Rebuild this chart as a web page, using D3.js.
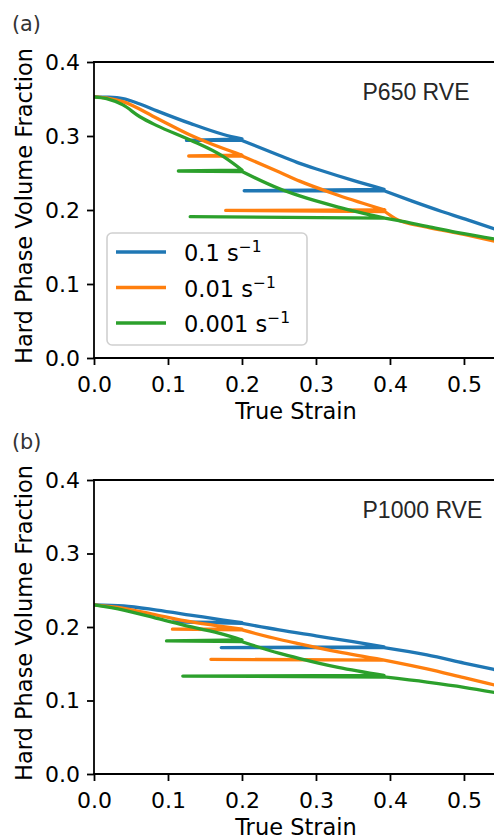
<!DOCTYPE html>
<html>
<head>
<meta charset="utf-8">
<script src="https://cdn.jsdelivr.net/npm/d3@7"></script>
<style>
  html, body { margin: 0; padding: 0; background: #fff; }
  svg { display: block; }
</style>
</head>
<body>
<div id="chart"></div>
<script>
// ---------------- DATA ----------------
const rateLabels = ["0.1", "0.01", "0.001"];
const xTicks = [0.0, 0.1, 0.2, 0.3, 0.4, 0.5];
const yTicks = [0.0, 0.1, 0.2, 0.3, 0.4];
const panelTags = ["(a)", "(b)"];
const panelTitles = ["P650 RVE", "P1000 RVE"];

// Panel (a) P650
const strainA_01 = [0, 0.02, 0.039, 0.06, 0.085, 0.13, 0.175, 0.2, 0.125, 0.2, 0.25, 0.278, 0.305, 0.35, 0.392, 0.203, 0.392, 0.43, 0.47, 0.51, 0.546];
const fracA_01   = [0.353, 0.3525, 0.3505, 0.344, 0.334, 0.317, 0.302, 0.296, 0.294, 0.294, 0.274, 0.263, 0.254, 0.240, 0.228, 0.226, 0.226, 0.212, 0.198, 0.185, 0.173];
const strainA_001 = [0, 0.02, 0.039, 0.085, 0.13, 0.175, 0.2, 0.128, 0.2, 0.251, 0.278, 0.33, 0.393, 0.178, 0.393, 0.41, 0.45, 0.5, 0.546];
const fracA_001   = [0.353, 0.351, 0.3464, 0.324, 0.3014, 0.283, 0.274, 0.273, 0.273, 0.251, 0.239, 0.220, 0.200, 0.1995, 0.198, 0.187, 0.177, 0.167, 0.157];
const strainA_0001 = [0, 0.017, 0.039, 0.062, 0.085, 0.13, 0.175, 0.2, 0.114, 0.2, 0.25, 0.278, 0.33, 0.393, 0.13, 0.393, 0.41, 0.45, 0.5, 0.546];
const fracA_0001   = [0.353, 0.3505, 0.342, 0.326, 0.314, 0.2946, 0.272, 0.254, 0.2527, 0.252, 0.229, 0.219, 0.204, 0.189, 0.191, 0.189, 0.186, 0.178, 0.168, 0.160];

// Panel (b) P1000
const strainB_01 = [0, 0.04, 0.085, 0.13, 0.175, 0.2, 0.107, 0.2, 0.25, 0.3, 0.35, 0.392, 0.172, 0.392, 0.45, 0.5, 0.546];
const fracB_01   = [0.23, 0.2286, 0.223, 0.2163, 0.2095, 0.206, 0.207, 0.205, 0.196, 0.188, 0.180, 0.173, 0.172, 0.172, 0.162, 0.151, 0.141];
const strainB_001 = [0, 0.04, 0.085, 0.13, 0.175, 0.2, 0.106, 0.2, 0.251, 0.278, 0.33, 0.392, 0.158, 0.392, 0.45, 0.5, 0.546];
const fracB_001   = [0.23, 0.2254, 0.2163, 0.2072, 0.2004, 0.197, 0.197, 0.196, 0.183, 0.177, 0.166, 0.155, 0.156, 0.155, 0.143, 0.131, 0.120];
const strainB_0001 = [0, 0.04, 0.085, 0.13, 0.175, 0.2, 0.098, 0.2, 0.251, 0.278, 0.33, 0.392, 0.12, 0.392, 0.45, 0.5, 0.546];
const fracB_0001   = [0.23, 0.223, 0.2118, 0.2004, 0.19, 0.1823, 0.181, 0.180, 0.164, 0.157, 0.145, 0.134, 0.1333, 0.132, 0.125, 0.118, 0.110];

// ---------------- STYLE / LAYOUT ----------------
const colors = ["#1f77b4", "#ff7f0e", "#2ca02c"];
const W = 494, H = 839;
const xLeft = 94, xRight = 498;
const panels = [
  { top: 62, bottom: 358, series: [[strainA_01, fracA_01], [strainA_001, fracA_001], [strainA_0001, fracA_0001]], legend: true },
  { top: 480, bottom: 774, series: [[strainB_01, fracB_01], [strainB_001, fracB_001], [strainB_0001, fracB_0001]], legend: false }
];
const tickFont = "'DejaVu Sans', sans-serif";

const svg = d3.select("#chart").append("svg")
  .attr("width", W).attr("height", H)
  .attr("viewBox", `0 0 ${W} ${H}`);

const x = d3.scaleLinear().domain([0, 0.546]).range([xLeft, xRight]);

// split into runs: loading curves (smoothed), unloading and reloading legs (straight)
function splitRuns(pts) {
  const breaks = new Set();
  for (let i = 1; i < pts.length - 1; i++) {
    const d0 = Math.sign(pts[i][0] - pts[i - 1][0]);
    const d1 = Math.sign(pts[i + 1][0] - pts[i][0]);
    if (d0 !== d1) {
      breaks.add(i);
      if (d1 > 0) breaks.add(i + 1);
    }
  }
  const runs = [];
  let cur = [pts[0]];
  for (let i = 1; i < pts.length; i++) {
    cur.push(pts[i]);
    if (breaks.has(i) && i < pts.length - 1) {
      runs.push(cur);
      cur = [pts[i]];
    }
  }
  runs.push(cur);
  return runs;
}

panels.forEach((p, pi) => {
  const y = d3.scaleLinear().domain([0, 0.4]).range([p.bottom, p.top]);
  const g = svg.append("g");

  const clipId = "clip" + pi;
  svg.append("clipPath").attr("id", clipId)
    .append("rect").attr("x", xLeft).attr("y", p.top - 3)
    .attr("width", xRight - xLeft).attr("height", p.bottom - p.top + 6);

  const line = d3.line().x(d => x(d[0])).y(d => y(d[1])).curve(d3.curveMonotoneX);
  p.series.forEach((s, si) => {
    const pts = s[0].map((v, i) => [v, s[1][i]]);
    const runs = splitRuns(pts);
    const dStr = runs.map(r => {
      const rr = r[0][0] > r[r.length - 1][0] ? r.slice().reverse() : r;
      return line(rr);
    }).join("");
    g.append("path")
      .attr("clip-path", `url(#${clipId})`)
      .attr("d", dStr)
      .attr("fill", "none")
      .attr("stroke", colors[si])
      .attr("stroke-width", 3.3)
      .attr("stroke-linejoin", "round")
      .attr("stroke-linecap", "round");
  });

  // axes
  const xAxis = d3.axisBottom(x).tickValues(xTicks).tickFormat(d3.format(".1f"))
    .tickSize(7).tickPadding(11);
  const yAxis = d3.axisLeft(y).tickValues(yTicks).tickFormat(d3.format(".1f"))
    .tickSize(7).tickPadding(7);

  const gx = g.append("g").attr("transform", `translate(0,${p.bottom})`).call(xAxis);
  const gy = g.append("g").attr("transform", `translate(${xLeft},0)`).call(yAxis);
  [gx, gy].forEach(a => {
    a.select(".domain").remove();
    a.selectAll(".tick line").attr("stroke", "#000").attr("stroke-width", 1.8);
    a.selectAll(".tick text").attr("fill", "#000")
      .style("font-family", tickFont).style("font-size", "22px");
  });

  // spines
  g.append("line").attr("x1", xLeft).attr("x2", xLeft).attr("y1", p.top).attr("y2", p.bottom)
    .attr("stroke", "#000").attr("stroke-width", 1.8).attr("stroke-linecap", "square");
  g.append("line").attr("x1", xLeft).attr("x2", xRight).attr("y1", p.bottom).attr("y2", p.bottom)
    .attr("stroke", "#000").attr("stroke-width", 1.8).attr("stroke-linecap", "square");
  g.append("line").attr("x1", xLeft).attr("x2", xRight).attr("y1", p.top).attr("y2", p.top)
    .attr("stroke", "#000").attr("stroke-width", 1.8).attr("stroke-linecap", "square");
  g.append("line").attr("x1", xRight).attr("x2", xRight).attr("y1", p.top).attr("y2", p.bottom)
    .attr("stroke", "#000").attr("stroke-width", 1.8);

  // axis labels
  g.append("text").attr("x", (xLeft + xRight) / 2).attr("y", p.bottom + 61)
    .attr("text-anchor", "middle").style("font-family", tickFont).style("font-size", "22.5px")
    .attr("fill", "#000").text("True Strain");
  const yc = (p.top + p.bottom) / 2 - 4;
  g.append("text").attr("transform", `translate(31.5,${yc}) rotate(-90)`)
    .attr("text-anchor", "middle").style("font-family", tickFont).style("font-size", "22.5px")
    .attr("fill", "#000").text("Hard Phase Volume Fraction");

  // panel tag
  g.append("text").attr("x", 12).attr("y", p.top - 31)
    .style("font-family", tickFont).style("font-size", "20.8px")
    .attr("fill", "#333").text(panelTags[pi]);

  // in-plot title
  g.append("text").attr("x", 362.5).attr("y", p.top + 38)
    .style("font-family", "'Liberation Sans', Arial, sans-serif").style("font-size", "23px")
    .attr("fill", "#262626").text(panelTitles[pi]);

  if (p.legend) {
    const lg = g.append("g");
    lg.append("rect").attr("x", 107).attr("y", 233).attr("width", 200).attr("height", 112)
      .attr("rx", 5).attr("ry", 5)
      .attr("fill", "#fff").attr("fill-opacity", 0.8)
      .attr("stroke", "#d0d0d0").attr("stroke-width", 1.6);
    rateLabels.forEach((lab, i) => {
      const ly = 252 + i * 35.5;
      lg.append("line").attr("x1", 116).attr("x2", 166).attr("y1", ly).attr("y2", ly)
        .attr("stroke", colors[i]).attr("stroke-width", 3.6);
      const t = lg.append("text").attr("x", 184).attr("y", ly + 9)
        .style("font-family", tickFont).style("font-size", "22.5px").attr("fill", "#000");
      t.append("tspan").text(lab + " s");
      t.append("tspan").attr("dy", -9).style("font-size", "15.5px").text("\u22121");
    });
  }
});
</script>
</body>
</html>
